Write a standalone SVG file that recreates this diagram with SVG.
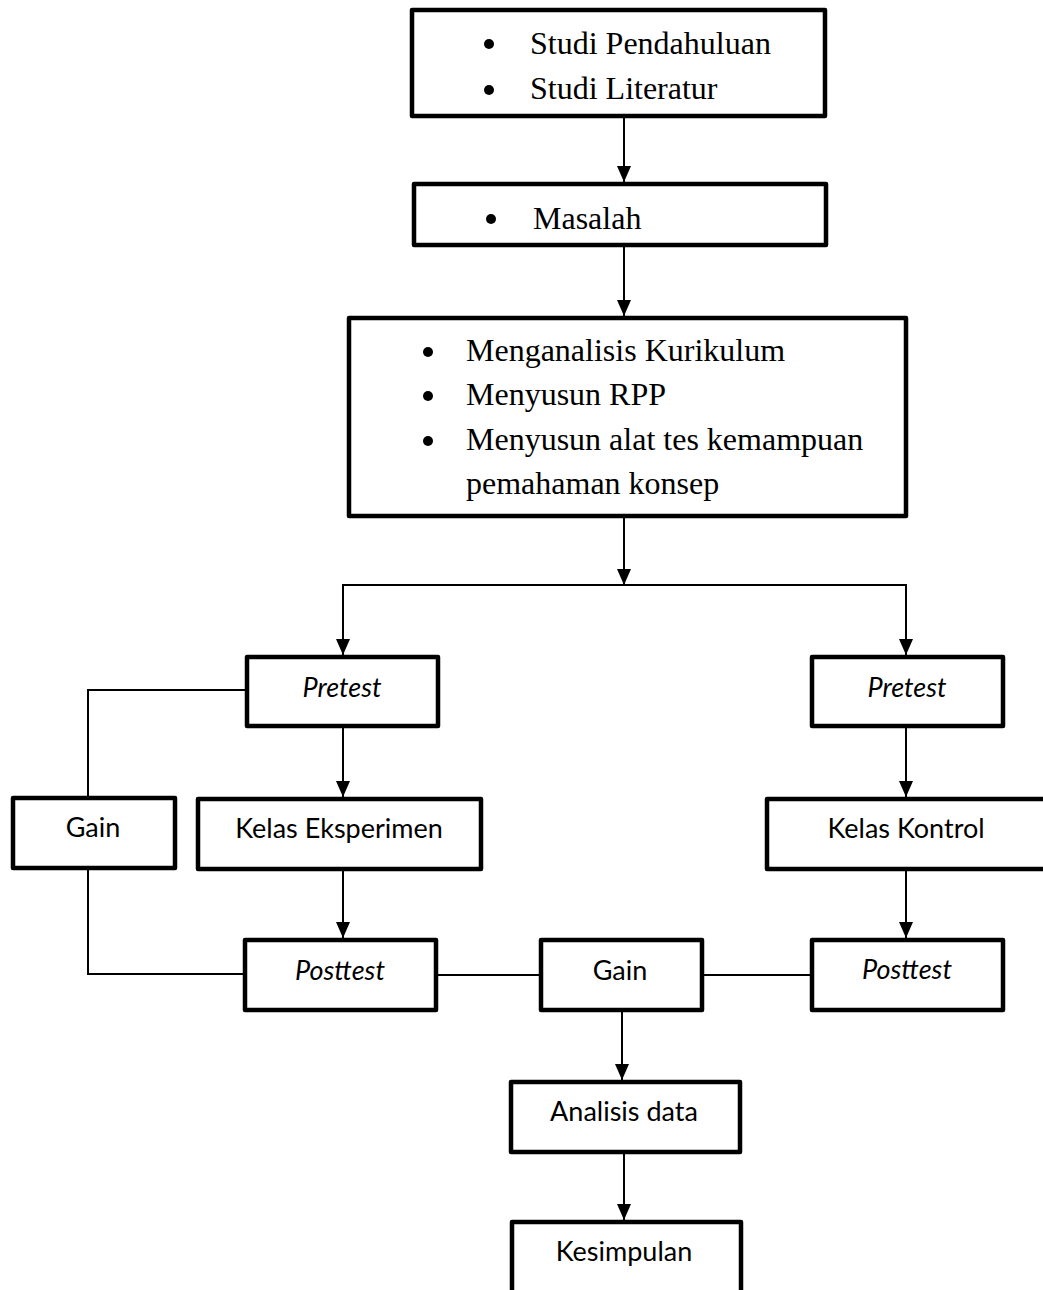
<svg xmlns="http://www.w3.org/2000/svg" width="1043" height="1290" viewBox="0 0 1043 1290">
<defs>
<style>
.box{fill:#fff;stroke:#000;stroke-width:4.5;stroke-linejoin:round}
.ser{font-family:"Liberation Serif","Times New Roman",serif;font-size:32px;fill:#000}
.san{font-family:Lato,"Liberation Sans",sans-serif;font-size:27px;fill:#000;text-anchor:middle}
.it{font-style:italic}
.ln{fill:none;stroke:#000;stroke-width:2}
</style>
<marker id="ah" viewBox="0 0 16 14" refX="16" refY="7" markerWidth="16" markerHeight="14" markerUnits="userSpaceOnUse" orient="auto">
<path d="M0,0 L16,7 L0,14 Z" fill="#000"/>
</marker>
</defs>
<rect width="1043" height="1290" fill="#fff"/>
<g id="connectors">
<path class="ln" d="M624,118 V182" marker-end="url(#ah)"/>
<path class="ln" d="M624,246 V316" marker-end="url(#ah)"/>
<path class="ln" d="M624,518 V585" marker-end="url(#ah)"/>
<path class="ln" d="M343,654 V585 H906 V654"/>
<path class="ln" d="M343,585 V655" marker-end="url(#ah)"/>
<path class="ln" d="M906,585 V655" marker-end="url(#ah)"/>
<path class="ln" d="M245,690 H88 V796"/>
<path class="ln" d="M343,727 V797" marker-end="url(#ah)"/>
<path class="ln" d="M906,727 V797" marker-end="url(#ah)"/>
<path class="ln" d="M88,869 V974 H243"/>
<path class="ln" d="M343,871 V938" marker-end="url(#ah)"/>
<path class="ln" d="M906,871 V938" marker-end="url(#ah)"/>
<path class="ln" d="M437,975 H539"/>
<path class="ln" d="M703,975 H810"/>
<path class="ln" d="M622,1012 V1080" marker-end="url(#ah)"/>
<path class="ln" d="M624,1153 V1220" marker-end="url(#ah)"/>
</g>
<g id="n-studi">
<rect class="box" x="412" y="10" width="413" height="106"/>
<circle cx="489" cy="44" r="5"/>
<circle cx="489" cy="90" r="5"/>
<text class="ser" x="530" y="54">Studi Pendahuluan</text>
<text class="ser" x="530" y="99">Studi Literatur</text>
</g>
<g id="n-masalah">
<rect class="box" x="414" y="184" width="412" height="61"/>
<circle cx="491" cy="219" r="5"/>
<text class="ser" x="533" y="229">Masalah</text>
</g>
<g id="n-menyusun">
<rect class="box" x="349" y="318" width="557" height="198"/>
<circle cx="428" cy="352" r="5"/>
<circle cx="428" cy="396" r="5"/>
<circle cx="428" cy="441" r="5"/>
<text class="ser" x="466" y="361">Menganalisis Kurikulum</text>
<text class="ser" x="466" y="405">Menyusun RPP</text>
<text class="ser" x="466" y="450">Menyusun alat tes kemampuan</text>
<text class="ser" x="466" y="494">pemahaman konsep</text>
</g>
<g id="n-pretest-e">
<rect class="box" x="247" y="657" width="191" height="69"/>
<text class="san it" x="342" y="697">Pretest</text>
</g>
<g id="n-pretest-k">
<rect class="box" x="812" y="657" width="191" height="69"/>
<text class="san it" x="907" y="697">Pretest</text>
</g>
<g id="n-gain-l">
<rect class="box" x="13" y="798" width="162" height="70"/>
<text class="san" x="93" y="837">Gain</text>
</g>
<g id="n-kelas-e">
<rect class="box" x="198" y="799" width="283" height="70"/>
<text class="san" x="339" y="838">Kelas Eksperimen</text>
</g>
<g id="n-kelas-k">
<rect class="box" x="767" y="799" width="300" height="70"/>
<text class="san" x="906" y="838">Kelas Kontrol</text>
</g>
<g id="n-posttest-e">
<rect class="box" x="245" y="940" width="191" height="70"/>
<text class="san it" x="340" y="980">Posttest</text>
</g>
<g id="n-gain-c">
<rect class="box" x="541" y="940" width="161" height="70"/>
<text class="san" x="620" y="980">Gain</text>
</g>
<g id="n-posttest-k">
<rect class="box" x="812" y="940" width="191" height="70"/>
<text class="san it" x="907" y="979">Posttest</text>
</g>
<g id="n-analisis">
<rect class="box" x="511" y="1082" width="229" height="70"/>
<text class="san" x="624" y="1121">Analisis data</text>
</g>
<g id="n-kesimpulan">
<rect class="box" x="512" y="1222" width="229" height="100"/>
<text class="san" x="624" y="1261">Kesimpulan</text>
</g>
</svg>
